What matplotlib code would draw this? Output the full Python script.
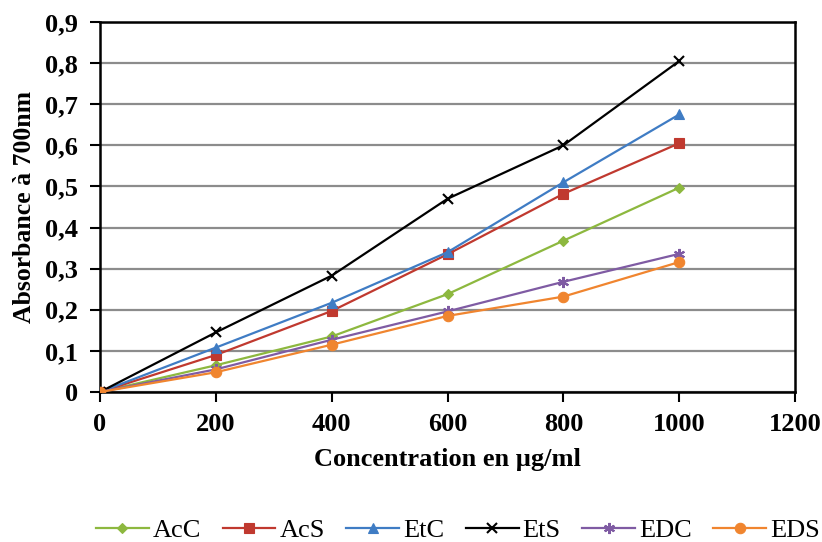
import matplotlib
matplotlib.use("Agg")
import matplotlib.pyplot as plt
from matplotlib.ticker import FuncFormatter

# Concentrations (µg/ml) and absorbance readings at 700 nm
concentration = [0, 200, 400, 600, 800, 1000]
acc = [0, 0.065, 0.135, 0.238, 0.368, 0.497]
acs = [0, 0.090, 0.197, 0.335, 0.482, 0.605]
etc_ = [0, 0.108, 0.217, 0.340, 0.510, 0.675]
ets = [0, 0.145, 0.283, 0.470, 0.600, 0.805]
edc = [0, 0.055, 0.127, 0.196, 0.268, 0.336]
eds = [0, 0.048, 0.115, 0.185, 0.232, 0.316]

series_names = ["AcC", "AcS", "EtC", "EtS", "EDC", "EDS"]
series_values = [acc, acs, etc_, ets, edc, eds]
colors = ["#8DB83F", "#C0392F", "#3F7CC4", "#000000", "#7F5BA3", "#F0852F"]
markers = ["D", "s", "^", "x", (6, 2, 0), "o"]
marker_sizes = [5.5, 7.5, 7.5, 7.5, 8, 7.5]

x_ticks = [0, 200, 400, 600, 800, 1000, 1200]
y_ticks = [0, 0.1, 0.2, 0.3, 0.4, 0.5, 0.6, 0.7, 0.8, 0.9]

serif = ["Liberation Serif", "DejaVu Serif"]
plt.rcParams["font.family"] = serif

fig = plt.figure(figsize=(8.22, 5.42), dpi=100)
ax = fig.add_axes([0.1217, 0.2768, 0.8455, 0.6826])

for name, vals, c, m, ms in zip(series_names, series_values, colors, markers, marker_sizes):
    ax.plot(concentration, vals, color=c, marker=m, markersize=ms, linewidth=1.6,
            markeredgewidth=1.5 if m in ("x", (6, 2, 0)) else 0.8,
            markeredgecolor=c, markerfacecolor=c, label=name, zorder=3)

ax.set_xlim(0, 1200)
ax.set_ylim(0, 0.9)
ax.set_xticks(x_ticks)
ax.set_yticks(y_ticks)
ax.yaxis.set_major_formatter(FuncFormatter(lambda v, p: "0" if abs(v) < 1e-9 else f"{v:.1f}".replace(".", ",")))
ax.xaxis.set_major_formatter(FuncFormatter(lambda v, p: f"{int(v)}"))

ax.grid(axis="y", color="#8c8c8c", linewidth=1.6, zorder=0)
ax.set_axisbelow(True)
for s in ax.spines.values():
    s.set_linewidth(1.8)
    s.set_color("black")

ax.tick_params(axis="both", direction="out", length=7, width=1.5, labelsize=19)
ax.tick_params(axis="y", pad=9)
ax.tick_params(axis="x", pad=8)
for lbl in ax.get_xticklabels() + ax.get_yticklabels():
    lbl.set_fontweight("bold")

ax.set_xlabel("Concentration en µg/ml", fontsize=19, fontweight="bold", labelpad=9)
ax.set_ylabel("Absorbance à 700nm", fontsize=18.5, fontweight="bold", labelpad=6)

fig.legend(loc="center", bbox_to_anchor=(0.557, 0.022), ncol=6, frameon=False,
           fontsize=19, handlelength=2.0, columnspacing=0.82, handletextpad=0.15,
           borderaxespad=0, borderpad=0)

fig.savefig("out.png", dpi=100)
